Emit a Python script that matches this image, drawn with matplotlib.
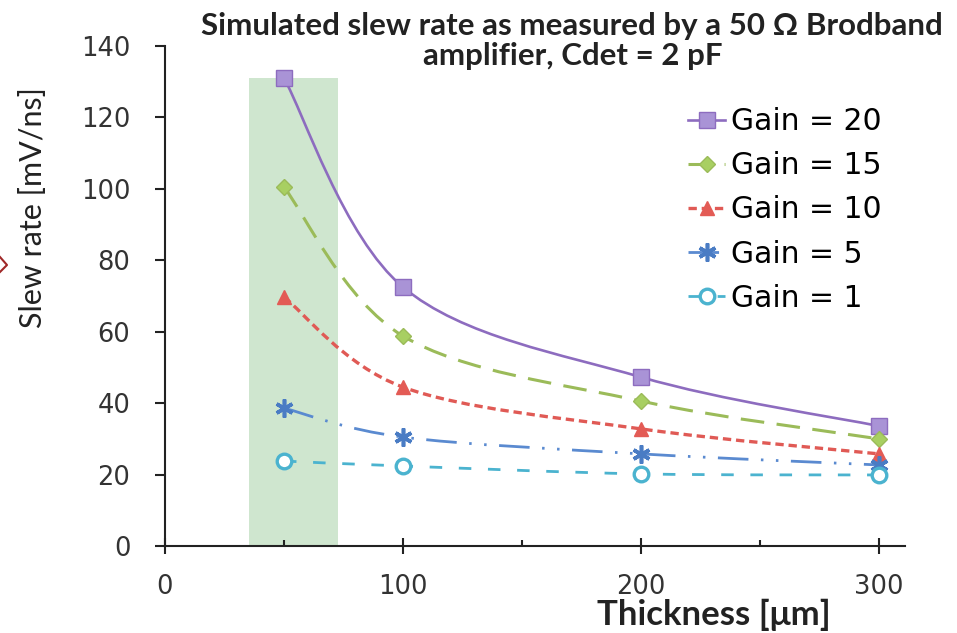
import matplotlib
matplotlib.use("Agg")
import matplotlib.pyplot as plt
from matplotlib.path import Path
from matplotlib.patches import PathPatch, Rectangle
from matplotlib.lines import Line2D
import numpy as np

# Slew rate vs. sensor thickness for several amplifier gains
thickness = [50, 100, 200, 300]
gain_labels = ["Gain = 20", "Gain = 15", "Gain = 10", "Gain = 5", "Gain = 1"]
gain20 = [131, 72.5, 47.3, 33.6]
gain15 = [100.5, 58.8, 40.6, 30.0]
gain10 = [69.7, 44.5, 32.8, 25.8]
gain5 = [38.6, 30.5, 25.8, 22.7]
gain1 = [23.8, 22.4, 20.2, 19.9]

# highlighted thickness range
band_x = (35.5, 72.5)
band_top = gain20[0]

x_ticks = [0, 100, 200, 300]
y_ticks = [0, 20, 40, 60, 80, 100, 120, 140]

plt.rcParams["lines.scale_dashes"] = False

styles = [
    dict(color="#8d6cbf", ls="-", lw=1.9, marker="s", ms=11, mfc="#a993d6", mec="#8d6cbf", mew=1.0),
    dict(color="#9bbb59", ls=(0, (17, 9)), lw=2.2, marker="D", ms=8.5, mfc="#a8cf62", mec="#9bbb59", mew=1.0),
    dict(color="#e05a55", ls=(0, (6, 3.5)), lw=2.4, marker="^", ms=10.5, mfc="#e35b55", mec="#e35b55", mew=1.0),
    dict(color="#5a8ad0", ls=(0, (22, 9, 1.8, 9, 1.8, 9)), lw=2.0, marker=(6, 2, 0), ms=13, mfc="#4a7cc4", mec="#4a7cc4", mew=2.6),
    dict(color="#4bb3cf", ls=(0, (9, 12)), lw=2.0, marker="o", ms=10.5, mfc="white", mec="#4bb3cf", mew=2.4),
]
series = [gain20, gain15, gain10, gain5, gain1]


def smooth_path(xs, ys):
    """Bezier path through the points (Catmull-Rom style, like Excel smoothing)."""
    pts = np.column_stack([xs, ys]).astype(float)
    verts = [pts[0]]
    codes = [Path.MOVETO]
    n = len(pts)
    for i in range(n - 1):
        p0 = pts[i - 1] if i > 0 else pts[i]
        p1 = pts[i]
        p2 = pts[i + 1]
        p3 = pts[i + 2] if i + 2 < n else pts[i + 1]
        c1 = p1 + (p2 - p0) / 6.0
        c2 = p2 - (p3 - p1) / 6.0
        verts += [c1, c2, p2]
        codes += [Path.CURVE4] * 3
    return Path(verts, codes)


fig = plt.figure(figsize=(9.57, 6.33), dpi=100)
ax = fig.add_axes([0.1724, 0.1374, 0.7733, 0.7899])

ax.add_patch(Rectangle((band_x[0], 0), band_x[1] - band_x[0], band_top,
                       facecolor="#cfe6cf", edgecolor="none", zorder=0))

handles = []
for vals, st, lab in zip(series, styles, gain_labels):
    patch = PathPatch(smooth_path(thickness, vals), fill=False, edgecolor=st["color"],
                      linestyle=st["ls"], linewidth=st["lw"], zorder=2, capstyle="butt")
    ax.add_patch(patch)
    ax.plot(thickness, vals, ls="none", marker=st["marker"], ms=st["ms"],
            mfc=st["mfc"], mec=st["mec"], mew=st["mew"], zorder=3)
    handles.append(Line2D([], [], color=st["color"], ls=st["ls"], lw=st["lw"],
                          marker=st["marker"], ms=st["ms"], mfc=st["mfc"],
                          mec=st["mec"], mew=st["mew"], label=lab))

ax.set_xlim(0, 311)
ax.set_ylim(0, 140)
ax.set_xticks(x_ticks)
ax.set_xticks([50, 150, 250], minor=True)
ax.set_yticks(y_ticks)

for side in ["top", "right"]:
    ax.spines[side].set_visible(False)
for side in ["left", "bottom"]:
    ax.spines[side].set_linewidth(1.5)
    ax.spines[side].set_color("#222222")

ax.tick_params(axis="y", direction="out", length=7, width=1.5, pad=18,
               labelsize=18.5, colors="#222222", labelcolor="#333333")
ax.tick_params(axis="x", which="major", direction="inout", length=11, width=1.5,
               pad=15, labelsize=18.5, colors="#222222", labelcolor="#333333")
ax.tick_params(axis="x", which="minor", direction="in", length=4, width=1.5,
               colors="#222222")
for lab in ax.get_xticklabels() + ax.get_yticklabels():
    lab.set_family(["DejaVu Sans"])

leg = fig.legend(handles=handles, loc="upper left", bbox_to_anchor=(0.719, 0.831),
                 frameon=False, fontsize=21.5, handlelength=1.25, handletextpad=0.2,
                 labelspacing=0.51, borderaxespad=0, borderpad=0)
for t in leg.get_texts():
    t.set_family(["DejaVu Sans"])

fig.text(0.598, 0.935, "Simulated slew rate as measured by a 50 \u03a9 Brodband\namplifier, Cdet = 2 pF",
         ha="center", va="center", fontsize=22.5, fontweight="bold", linespacing=1.08,
         family=["Lato", "DejaVu Sans"], color="#222222")
fig.text(0.034, 0.672, "Slew rate [mV/ns]", rotation=90, ha="center", va="center",
         fontsize=22, family=["Lato", "DejaVu Sans"], color="#222222")
fig.text(0.746, 0.028, "Thickness [\u03bcm]", ha="center", va="center",
         fontsize=25, fontweight="bold", family=["Lato", "DejaVu Sans"], color="#222222")

# marker peeking in at the left edge
fig.add_artist(Line2D([0, 7 / 957, 0], [1 - 257 / 633, 1 - 265 / 633, 1 - 272 / 633],
                      transform=fig.transFigure, color="#a02828", lw=1.5))

fig.savefig("out.png", dpi=100)
